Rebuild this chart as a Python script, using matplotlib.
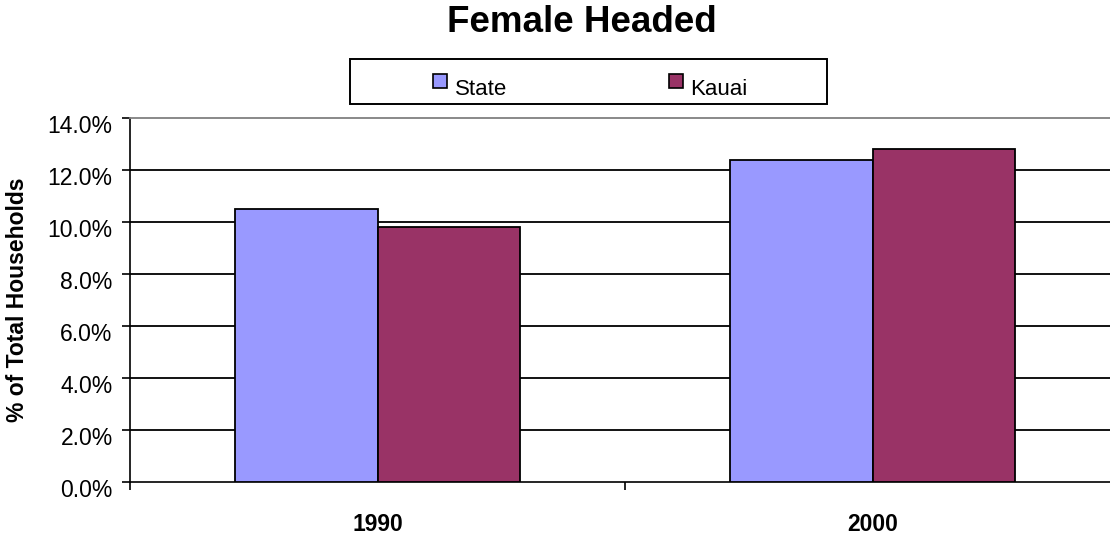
import matplotlib
matplotlib.use("Agg")
import matplotlib.pyplot as plt
import matplotlib.transforms as mtransforms
from matplotlib.patches import Rectangle
import numpy as np

# ---- data ----
categories = ["1990", "2000"]
series_names = ["State", "Kauai"]
state_values = [10.5, 12.4]   # percent
kauai_values = [9.8, 12.8]    # percent
y_ticks = [0, 2, 4, 6, 8, 10, 12, 14]
title_text = "Female Headed"
y_label = "% of Total Households"

colors = ["#9999FF", "#993366"]

plt.rcParams['font.family'] = ['Liberation Sans', 'DejaVu Sans']

W, H = 1110, 539
fig = plt.figure(figsize=(W / 100, H / 100), dpi=100)

def fx(px):
    return px / W

def fy(py):
    return 1 - py / H

ax = fig.add_axes([fx(130), fy(482), (1120 - 130) / W, (482 - 118) / H])

x = np.arange(len(categories))
bw = 0.287
series = [state_values, kauai_values]
for i, (vals, name, col) in enumerate(zip(series, series_names, colors)):
    ax.bar(x + (i - 0.5) * bw, vals, width=bw, color=col,
           edgecolor="black", linewidth=1.3, zorder=3, label=name)

ax.set_xlim(-0.5, len(categories) - 0.5)
ax.set_ylim(y_ticks[0], y_ticks[-1])
ax.set_yticks(y_ticks)
ax.set_yticklabels([f"{v:.1f}%" for v in y_ticks], fontsize=16.5)
ax.tick_params(axis='y', direction='out', length=5.5, width=1.2, pad=7, color='black')

# category boundary ticks (major) and category labels (minor)
ax.set_xticks(np.arange(len(categories) + 1) - 0.5)
ax.set_xticklabels([])
ax.tick_params(axis='x', which='major', direction='out', length=6, width=1.2)
ax.set_xticks(x, minor=True)
ax.set_xticklabels(categories, minor=True, fontsize=16.5, fontweight='bold')
ax.tick_params(axis='x', which='minor', length=0, pad=22)

# shift y tick labels down slightly like Excel
off = mtransforms.ScaledTranslation(0, -6 / 100, fig.dpi_scale_trans)
for lab in ax.get_yticklabels():
    lab.set_transform(lab.get_transform() + off)

ax.yaxis.grid(True, color='black', linewidth=1.3, zorder=0)
ax.set_axisbelow(True)
ax.get_ygridlines()[-1].set_visible(False)
ax.get_ygridlines()[0].set_visible(False)

ax.spines['right'].set_visible(False)
ax.spines['top'].set_color('#808080')
ax.spines['top'].set_linewidth(1.3)
ax.spines['left'].set_linewidth(1.2)
ax.spines['bottom'].set_linewidth(1.2)

# title
fig.text(fx(581.5), fy(31.7), title_text, ha='center', va='baseline',
         fontsize=26.5, fontweight='bold')

# y label
fig.text(fx(18), fy(300), y_label, rotation=90, ha='center', va='center',
         fontsize=16.5, fontweight='bold')

# legend (manual, Excel-style)
fig.patches.append(Rectangle((fx(350), fy(104)), fx(827) - fx(350), fy(59) - fy(104),
                             transform=fig.transFigure, facecolor='white',
                             edgecolor='black', linewidth=1.4, zorder=5))
marker_x = [433, 669]
text_x = [455, 690]
for mx, tx, name, col in zip(marker_x, text_x, series_names, colors):
    fig.patches.append(Rectangle((fx(mx), fy(88)), fx(14), 14 / H,
                                 transform=fig.transFigure, facecolor=col,
                                 edgecolor='black', linewidth=1.2, zorder=6))
    fig.text(fx(tx), fy(95), name, ha='left', va='baseline', fontsize=16, zorder=7)

fig.savefig("out.png", dpi=100)
